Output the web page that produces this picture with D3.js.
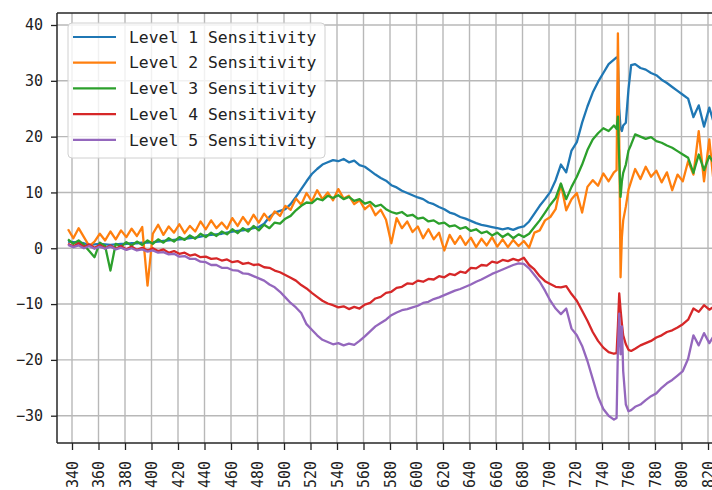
<!DOCTYPE html>
<html>
<head>
<meta charset="utf-8">
<script src="https://d3js.org/d3.v7.min.js"></script>
<style>
  body { margin: 0; background: #fff; }
  svg { display: block; background: #fff; }
  .axis text { font-family: "DejaVu Sans Mono", monospace; font-size: 15px; fill: #222; }
  .axis line { stroke: #222; stroke-width: 1.3; }
  .legend text { font-family: "DejaVu Sans Mono", monospace; font-size: 16.4px; fill: #222; }
</style>
</head>
<body>
<svg width="712" height="490"></svg>
<script>
// wavelength (nm) for every sample, denser around the spike near 752 nm
var wavelengths = [
  337,341,345,349,353,357,361,365,369,373,377,381,385,389,393,397,401,405,409,413,
  417,421,425,429,433,437,441,445,449,453,457,461,465,469,473,477,481,485,489,493,
  497,501,505,509,513,517,521,525,529,533,537,541,545,549,553,557,561,565,569,573,
  577,581,585,589,593,597,601,605,609,613,617,621,625,629,633,637,641,645,649,653,
  657,661,665,669,673,677,681,685,689,693,697,701,705,709,713,717,721,725,729,733,
  737,741,745,749,
  751,752,753,754,755,756,758,760,762,
  765,769,773,777,781,785,789,793,797,801,805,809,813,817,821,825,829
];

var level1 = [
  1.2,1.1,1.0,0.9,0.6,0.7,0.8,0.7,0.6,0.7, 0.8,0.8,0.9,0.9,1.0,1.0,1.1,1.2,1.3,1.4,
  1.5,1.6,1.7,1.8,1.9,2.1,2.3,2.4,2.5,2.6, 2.8,3.0,3.1,3.2,3.4,3.6,3.8,4.4,5.6,6.4,
  6.7,7.0,7.9,9.2,10.6,12.0,13.3,14.2,15.0,15.4, 15.8,15.6,16.0,15.4,15.7,14.9,14.6,13.9,13.2,12.6,
  12.1,11.3,10.9,10.3,9.9,9.5,9.1,8.8,8.2,7.9, 7.4,7.0,6.4,6.1,5.6,5.3,4.9,4.5,4.2,4.0,
  3.8,3.6,3.4,3.6,3.3,3.7,3.9,4.8,6.2,7.6, 8.8,10.1,12.2,15.0,13.6,17.5,19.0,22.5,25.4,27.9,
  29.8,31.4,33.0,33.8,
  34.2,34.0,25.0,21.5,21.0,22.0,22.5,28.5,32.8,
  33.0,32.3,32.0,31.4,31.0,30.2,29.6,28.9,28.2,27.5,26.8,23.5,25.6,21.8,25.2,22.0,24.0
];

var level2 = [
  3.4,1.8,3.6,2.0,0.4,1.2,2.6,1.4,3.0,1.6, 3.2,2.0,3.5,2.2,3.8,-6.7,2.6,4.2,2.4,3.9,
  2.8,4.3,2.7,4.0,3.0,4.8,3.4,5.0,3.6,4.6, 3.5,5.4,4.0,5.6,4.3,6.0,4.6,6.2,5.0,6.6,
  5.8,7.6,6.9,8.9,7.8,9.9,8.4,10.4,8.8,10.0, 8.6,10.6,8.9,9.4,7.9,8.6,7.0,7.8,5.9,6.9,
  5.1,0.9,5.4,3.6,4.8,2.9,3.9,1.8,3.4,1.6, 2.8,-0.4,2.4,0.8,2.2,0.6,1.9,0.2,1.7,0.5,
  2.0,0.3,1.6,0.2,1.5,0.4,1.3,0.1,2.8,3.2, 5.0,5.6,7.0,11.5,6.8,8.8,9.9,6.4,11.0,12.2,
  11.2,13.4,12.0,13.6,
  14.0,38.5,20.0,-5.2,2.0,5.0,7.5,10.5,12.0,
  14.2,12.4,14.6,12.8,13.9,11.8,13.6,10.4,13.2,12.0,15.6,13.2,21.0,12.0,19.5,10.0,13.0
];

var level3 = [
  1.6,0.8,1.4,0.6,-0.5,-1.6,1.0,0.4,-4.0,0.8, 0.3,1.1,0.5,1.2,0.6,1.4,0.8,1.6,1.0,1.8,
  1.2,2.0,1.5,2.3,1.7,2.6,2.0,2.8,2.2,3.0, 2.5,3.4,2.7,3.6,3.0,4.0,3.2,4.2,3.6,4.6,
  4.4,5.3,5.8,6.8,7.6,8.2,8.1,8.9,8.6,9.4, 9.0,9.5,8.8,9.2,8.5,8.8,8.0,8.3,7.5,7.8,
  7.0,6.5,6.2,6.5,5.8,6.0,5.3,5.5,4.8,5.0, 4.4,4.6,3.9,4.1,3.5,3.8,3.1,3.4,2.7,3.0,
  2.3,2.8,2.0,2.6,1.8,2.5,2.0,2.6,3.8,5.0, 6.4,7.8,9.0,11.6,8.8,11.0,12.8,15.0,17.6,19.5,
  20.6,21.5,21.0,22.0,
  21.4,23.6,16.0,9.2,12.0,13.5,15.0,17.5,18.6,
  20.4,20.0,19.6,19.9,19.2,18.9,18.4,18.0,17.4,16.8,16.2,13.5,16.8,14.0,16.5,15.0,16.0
];

var level4 = [
  0.8,0.3,0.9,0.2,0.7,0.1,0.6,0.0,0.5,-0.1, 0.4,-0.2,0.3,-0.3,0.1,-0.4,0.0,-0.5,-0.2,-0.8,
  -0.5,-1.0,-0.8,-1.3,-1.1,-1.6,-1.5,-1.9,-1.8,-2.2, -2.0,-2.5,-2.3,-2.8,-2.6,-3.0,-2.9,-3.4,-3.5,-4.0,
  -4.3,-4.8,-5.3,-5.8,-6.6,-7.2,-8.0,-8.7,-9.4,-9.9, -10.2,-10.6,-10.4,-10.9,-10.5,-10.8,-10.1,-9.8,-9.0,-8.7,
  -8.0,-7.8,-7.1,-6.9,-6.3,-6.4,-5.8,-6.0,-5.5,-5.6, -5.0,-5.2,-4.6,-4.8,-4.2,-4.4,-3.5,-3.6,-3.0,-3.1,
  -2.4,-2.6,-2.1,-2.3,-1.9,-2.2,-1.7,-3.0,-3.8,-5.0, -5.9,-6.4,-6.9,-7.0,-6.8,-8.2,-9.4,-11.2,-13.0,-15.0,
  -16.6,-17.8,-18.6,-18.9,
  -18.8,-14.0,-8.1,-11.0,-13.5,-15.6,-17.2,-18.2,-18.4,
  -18.0,-17.4,-17.0,-16.6,-16.0,-15.6,-15.0,-14.7,-14.2,-13.6,-12.8,-10.8,-11.4,-10.2,-11.0,-10.4,-10.8
];

var level5 = [
  0.6,0.2,0.5,0.0,0.4,-0.1,0.3,-0.1,0.3,-0.2, 0.1,-0.3,0.0,-0.4,-0.2,-0.6,-0.4,-0.8,-0.7,-1.1,
  -1.0,-1.5,-1.4,-1.9,-1.9,-2.4,-2.5,-3.0,-3.0,-3.5, -3.5,-3.9,-4.0,-4.5,-4.6,-5.0,-5.4,-5.8,-6.5,-7.0,
  -7.8,-8.8,-9.8,-10.6,-11.6,-13.6,-14.6,-15.6,-16.4,-16.8, -17.2,-17.0,-17.4,-17.1,-17.3,-16.6,-15.8,-14.9,-14.0,-13.4,
  -12.8,-12.0,-11.5,-11.1,-10.9,-10.6,-10.3,-9.8,-9.6,-9.1, -8.8,-8.4,-8.0,-7.6,-7.3,-6.9,-6.5,-6.0,-5.6,-5.1,
  -4.6,-4.2,-3.8,-3.4,-3.0,-2.7,-2.8,-3.6,-4.8,-6.0, -7.6,-9.4,-10.8,-11.8,-10.8,-14.4,-15.6,-17.5,-20.2,-23.4,
  -26.6,-28.8,-30.0,-30.7,
  -30.4,-18.0,-11.7,-19.0,-14.0,-22.0,-28.0,-29.2,-29.0,
  -28.4,-28.0,-27.2,-26.5,-26.0,-25.0,-24.2,-23.6,-22.8,-22.0,-19.8,-15.6,-17.4,-15.2,-17.0,-15.4,-16.0
];

var seriesNames = ["Level 1 Sensitivity", "Level 2 Sensitivity", "Level 3 Sensitivity",
                   "Level 4 Sensitivity", "Level 5 Sensitivity"];
var seriesColors = ["#1f77b4", "#ff7f0e", "#2ca02c", "#d62728", "#9467bd"];
var xTicks = [340,360,380,400,420,440,460,480,500,520,540,560,580,600,620,640,660,680,700,720,740,760,780,800,820];
var yTicks = [-30,-20,-10,0,10,20,30,40];

(function() {
  var svg = d3.select("svg");
  var plotLeft = 57, plotTop = 13, plotBottom = 443, plotRight = 760;

  var x = d3.scaleLinear().domain([340, 820]).range([72, 708]);
  var y = d3.scaleLinear().domain([-30, 40]).range([415.7, 25]);

  var series = [level1, level2, level3, level4, level5];

  // grid
  var grid = svg.append("g").attr("class", "grid")
      .attr("stroke", "#b8b8b8")
      .attr("stroke-width", 1.4);
  grid.selectAll(".gx")
    .data(xTicks)
    .enter().append("line")
      .attr("x1", function(d) { return x(d); })
      .attr("x2", function(d) { return x(d); })
      .attr("y1", plotTop)
      .attr("y2", plotBottom);
  grid.selectAll(".gy")
    .data(yTicks)
    .enter().append("line")
      .attr("x1", plotLeft)
      .attr("x2", plotRight)
      .attr("y1", function(d) { return y(d); })
      .attr("y2", function(d) { return y(d); });

  svg.append("clipPath")
      .attr("id", "plot-clip")
    .append("rect")
      .attr("x", plotLeft)
      .attr("y", plotTop)
      .attr("width", plotRight - plotLeft)
      .attr("height", plotBottom - plotTop);

  var line = d3.line()
      .x(function(d, i) { return x(wavelengths[i]); })
      .y(function(d) { return y(d); });

  svg.append("g")
      .attr("clip-path", "url(#plot-clip)")
    .selectAll("path")
    .data(series)
    .enter().append("path")
      .attr("fill", "none")
      .attr("stroke", function(d, i) { return seriesColors[i]; })
      .attr("stroke-width", 2.3)
      .attr("stroke-linejoin", "round")
      .attr("d", line);

  // axes
  var yAxis = svg.append("g")
      .attr("class", "axis")
      .attr("transform", "translate(" + plotLeft + ",0)")
      .call(d3.axisLeft(y).tickValues(yTicks).tickSize(6).tickPadding(8));
  yAxis.select(".domain").remove();

  var xAxis = svg.append("g")
      .attr("class", "axis")
      .attr("transform", "translate(0," + plotBottom + ")")
      .call(d3.axisBottom(x).tickValues(xTicks).tickSize(7));
  xAxis.select(".domain").remove();
  xAxis.selectAll("text")
      .attr("transform", "rotate(-90)")
      .attr("text-anchor", "end")
      .attr("x", -18)
      .attr("y", 0)
      .attr("dy", "0.35em");

  var spines = svg.append("g")
      .attr("stroke", "#262626")
      .attr("stroke-width", 1.5);
  spines.append("line").attr("x1", plotLeft).attr("x2", plotLeft).attr("y1", plotTop).attr("y2", plotBottom);
  spines.append("line").attr("x1", plotLeft).attr("x2", plotRight).attr("y1", plotBottom).attr("y2", plotBottom);
  spines.append("line").attr("x1", plotLeft).attr("x2", plotRight).attr("y1", plotTop).attr("y2", plotTop);

  // legend
  var legend = svg.append("g").attr("class", "legend");
  legend.append("rect")
      .attr("x", 68)
      .attr("y", 23)
      .attr("width", 257)
      .attr("height", 135)
      .attr("rx", 4)
      .attr("fill", "#fff")
      .attr("fill-opacity", 0.8)
      .attr("stroke", "#d0d0d0")
      .attr("stroke-width", 1);

  var items = legend.selectAll(".item")
    .data(seriesNames)
    .enter().append("g")
      .attr("class", "item")
      .attr("transform", function(d, i) { return "translate(0," + (37 + i * 25.7) + ")"; });
  items.append("line")
      .attr("x1", 73)
      .attr("x2", 116)
      .attr("stroke", function(d, i) { return seriesColors[i]; })
      .attr("stroke-width", 2.2);
  items.append("text")
      .attr("x", 129)
      .attr("dy", "0.35em")
      .text(function(d) { return d; });
})();
</script>
</body>
</html>
